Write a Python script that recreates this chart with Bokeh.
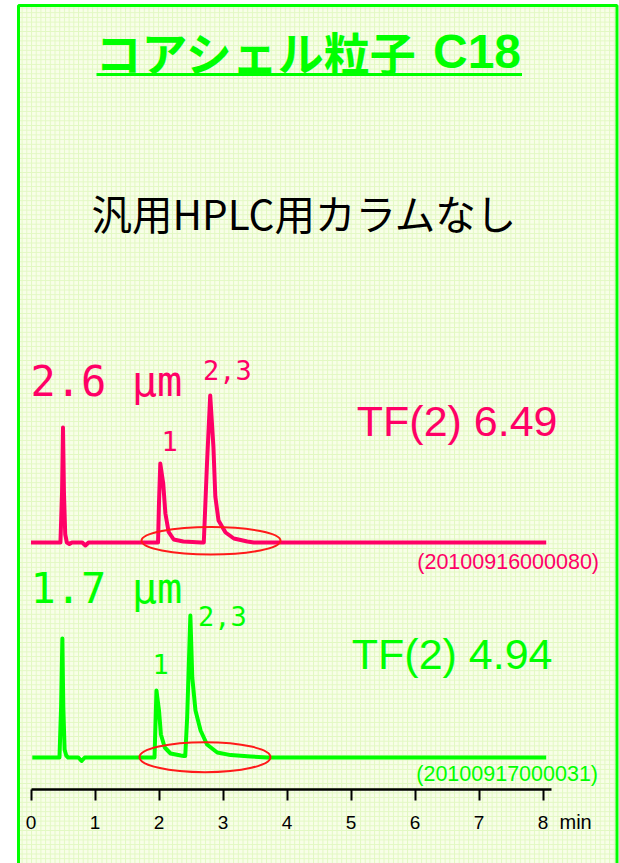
from bokeh.plotting import figure
from bokeh.models import Range1d, LinearAxis, FixedTicker
from bokeh.core.properties import value
from bokeh.embed import file_html
from bokeh.resources import INLINE

# ---------------- data ----------------
title_jp = "コアシェル粒子"
title_code = "C18"
subtitle = "汎用HPLC用カラムなし"

series_names = ["2.6 μm", "1.7 μm"]
tf_labels = ["TF(2) 6.49", "TF(2) 4.94"]
run_ids = ["(20100916000080)", "(20100917000031)"]
peak_labels = ["1", "2,3"]

# retention time (min) / detector signal (relative units)
t_26 = [0.00, 0.46, 0.485, 0.50, 0.515, 0.535, 0.56, 0.60, 0.64, 0.80, 0.85, 0.90,
        1.985, 2.00, 2.02, 2.066, 2.10, 2.15, 2.23, 2.38, 2.66,
        2.70, 2.75, 2.80, 2.85, 2.88, 2.93, 3.04, 3.17, 3.38, 3.48, 8.05]
s_26 = [0, 0, 50, 115, 50, 8, 0, -1.5, 0, 0, -3, 0,
        0, 40, 79, 59, 29, 10.6, 3, 1, 0,
        0, 79, 147, 96, 46, 22, 10, 4, 1, 0, 0]

t_17 = [0.02, 0.445, 0.47, 0.49, 0.505, 0.525, 0.55, 0.58, 0.74, 0.79, 0.84,
        1.93, 1.96, 2.00, 2.03, 2.09, 2.18, 2.34, 2.39,
        2.41, 2.44, 2.49, 2.52, 2.57, 2.65, 2.75, 2.91, 3.12, 3.43, 3.69, 8.05]
s_17 = [0, 0, 50, 119, 50, 8, 2, 0, 0, -3.5, 0,
        0, 67, 47, 23, 10, 4, 2, 1.5,
        1.5, 40, 142, 80, 47, 27, 13, 5, 2.4, 1, 0, 0]

tick_values = [0, 1, 2, 3, 4, 5, 6, 7, 8]
time_unit = "min"

# ---------------- style / layout ----------------
PINK = "#ff0066"
GREEN = "#00ff00"
RED = "#ff1a1a"
W, H = 619, 863
PX_PER_MIN = 64.0
X0_PAGE = 30.5          # page x of t = 0


def tx(page_x):
    return (page_x - X0_PAGE) / PX_PER_MIN


def ty(page_y):
    return H - page_y


p = figure(width=W, height=H, output_backend="svg", toolbar_location=None,
           x_range=Range1d(tx(0), tx(W)), y_range=Range1d(ty(H), ty(0)),
           min_border=0, x_axis_type=None, y_axis_type=None)
p.outline_line_color = None
p.background_fill_color = "white"
p.border_fill_color = "white"
p.xgrid.visible = False
p.ygrid.visible = False

# panel background with fine grid texture and green frame
p.quad(left=[tx(18)], right=[tx(616.5)], top=[ty(5)], bottom=[ty(900)],
       fill_color="#f8fee8", hatch_pattern="+", hatch_color="#e2f8c2",
       hatch_scale=4.7, hatch_weight=1, line_color=GREEN, line_width=3)

mid = "middle"
# title
p.text(x=[tx(95)], y=[ty(50)], text=[title_jp], text_font=value("Noto Sans CJK JP"),
       text_font_style="bold", text_font_size="46px", text_color=GREEN,
       text_align="left", text_baseline=mid)
p.text(x=[tx(432.5)], y=[ty(50.5)], text=[title_code], text_font=value("Liberation Sans"),
       text_font_style="bold", text_font_size="48px", text_color=GREEN,
       text_align="left", text_baseline=mid)
p.segment(x0=[tx(96)], y0=[ty(74)], x1=[tx(521.5)], y1=[ty(74)], line_color=GREEN, line_width=3)

p.text(x=[tx(304)], y=[ty(211.5)], text=[subtitle], text_font=value("Noto Sans CJK JP"),
       text_font_size="40.5px", text_color="black", text_align="center", text_baseline=mid)

# chromatograms
baselines = [ty(542), ty(757)]
traces = [(t_26, s_26), (t_17, s_17)]
colors = [PINK, GREEN]
for (t, s), b, c in zip(traces, baselines, colors):
    p.line(t, [b + v for v in s], line_color=c, line_width=4, line_join="round")

# tailing highlight ellipses
p.ellipse(x=[tx(210.5), tx(204.5)], y=[ty(540.3), ty(756.7)],
          width=[139 / PX_PER_MIN, 131 / PX_PER_MIN], height=[27.5, 30],
          fill_color=None, line_color=RED, line_width=2)

mono = value("DejaVu Sans Mono")
arial = value("Liberation Sans")
# particle size labels
p.text(x=[tx(30), tx(30)], y=[ty(381), ty(587.5)], text=series_names, text_font=mono,
       text_font_size="42px", text_color=colors, text_baseline=mid)
# peak labels
p.text(x=[tx(161), tx(202.5), tx(152), tx(197.5)],
       y=[ty(440.5), ty(369.5), ty(663), ty(615.5)],
       text=peak_labels * 2, text_font=mono, text_font_size="27px",
       text_color=[PINK, PINK, GREEN, GREEN], text_baseline=mid)
# tailing factors
p.text(x=[tx(557), tx(552)], y=[ty(420), ty(653)], text=tf_labels, text_font=arial,
       text_font_size="43px", text_color=colors, text_align="right", text_baseline=mid)
# run ids
p.text(x=[tx(598.5), tx(597.5)], y=[ty(561.5), ty(773.5)], text=run_ids, text_font=arial,
       text_font_size="21.5px", text_color=colors, text_align="right", text_baseline=mid)
# unit
p.text(x=[tx(559)], y=[ty(821.5)], text=[time_unit], text_font=arial, text_font_size="20px",
       text_color="black", text_align="left", text_baseline=mid)

# time axis
ax = LinearAxis(ticker=FixedTicker(ticks=tick_values), fixed_location=ty(788.5),
                bounds=(0, 8.13))
ax.axis_line_color = "black"
ax.axis_line_width = 2.5
ax.major_tick_line_color = "black"
ax.major_tick_line_width = 2
ax.major_tick_in = 0
ax.major_tick_out = 11
ax.minor_tick_line_color = None
ax.major_label_text_font = "Liberation Sans"
ax.major_label_text_font_size = "19px"
ax.major_label_text_color = "black"
ax.major_label_standoff = 16
p.add_layout(ax, "below")

open("out.html", "w").write(file_html(p, INLINE))
